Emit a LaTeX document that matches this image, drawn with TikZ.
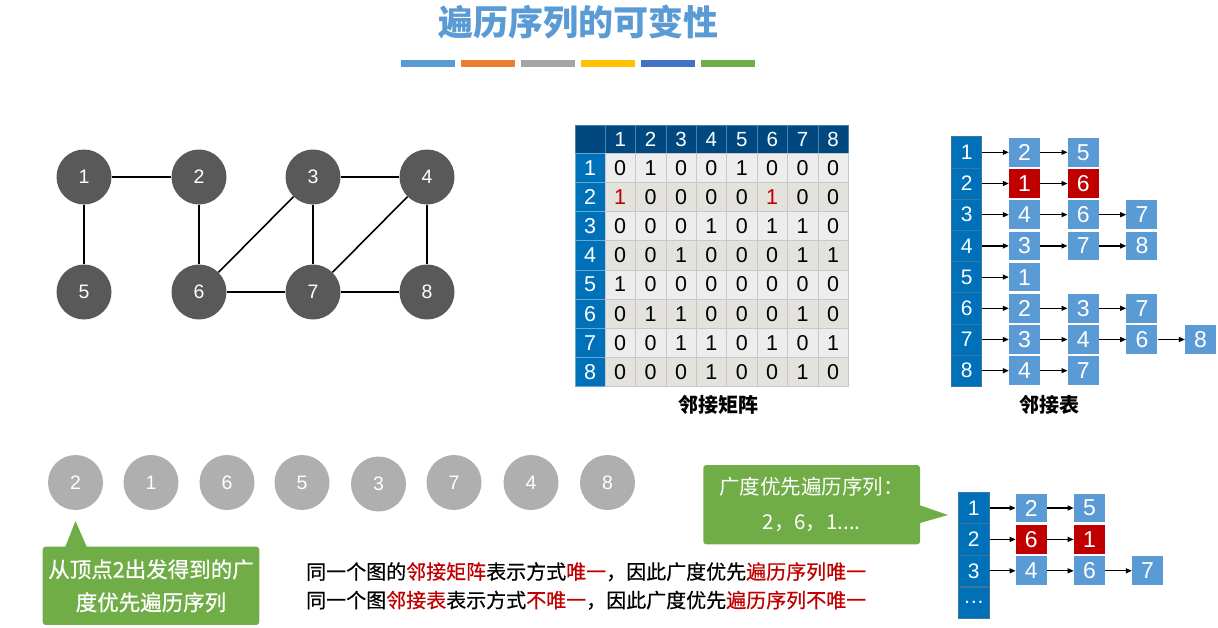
\documentclass[tikz,border=0pt]{standalone}
\usepackage{fontspec}
\setmainfont{Liberation Sans}
\newfontfamily\cjk{Noto Sans CJK SC}
\newfontfamily\cjkm{Noto Sans CJK SC}[FakeBold=0.6]
\usetikzlibrary{arrows.meta}
\definecolor{titleblue}{RGB}{91,155,213}
\definecolor{barorange}{RGB}{237,125,49}
\definecolor{bargray}{RGB}{165,165,165}
\definecolor{bargold}{RGB}{255,192,0}
\definecolor{barblue}{RGB}{68,114,196}
\definecolor{leafgreen}{RGB}{112,173,71}
\definecolor{vertexgray}{RGB}{89,89,89}
\definecolor{seqgray}{RGB}{175,175,175}
\definecolor{navyhead}{RGB}{0,73,128}
\definecolor{headblue}{RGB}{0,112,185}
\definecolor{rowlight}{RGB}{237,237,237}
\definecolor{rowdark}{RGB}{227,226,221}
\definecolor{hotred}{RGB}{192,0,0}
\definecolor{cellline}{RGB}{200,200,200}
\newcommand\redv[1]{\textcolor{hotred}{#1}}
\tikzset{
  vertex/.style={circle,fill=vertexgray,minimum size=55pt,inner sep=0pt,text=white,font=\fontsize{19.5}{19.5}\selectfont},
  seq/.style={vertex,fill=seqgray},
  edge/.style={draw=black,line width=1.6pt},
  cell/.style={rectangle,minimum width=30.4pt,minimum height=29.2pt,inner sep=0pt,draw=cellline,line width=0.6pt,font=\fontsize{21.5}{21.5}\selectfont},
  colhead/.style={cell,fill=navyhead,draw=navyhead!70!white,text=white,minimum height=28.3pt,font=\fontsize{20.5}{20.5}\selectfont},
  rowhead/.style={cell,fill=headblue,draw=headblue!60!white,text=white,minimum width=30pt},
  headcell/.style={rectangle,fill=headblue,draw=headblue!55!gray,line width=0.6pt,minimum width=30pt,minimum height=31.2pt,inner sep=0pt,text=white,font=\fontsize{21}{21}\selectfont},
  lnode/.style={rectangle,fill=titleblue,minimum width=31pt,minimum height=28.7pt,inner sep=0pt,text=white,font=\fontsize{23}{23}\selectfont},
  lred/.style={lnode,fill=hotred},
  arr/.style={-{Triangle[length=6pt,width=5pt]},draw=black,line width=1.2pt},
  note/.style={rectangle,rounded corners=3pt,fill=leafgreen,text=white,align=center,inner sep=0pt},
  caption/.style={font=\cjk\bfseries\fontsize{20}{24}\selectfont},
}
\begin{document}
\begin{tikzpicture}[x=1pt,y=-1pt]
  \useasboundingbox (0,0) rectangle (1218,627);
  % title and colour bars
  \node[text=titleblue,font=\cjk\bfseries\fontsize{35}{35}\selectfont] (title) at (578,22) {遍历序列的可变性};
  \foreach \c [count=\i from 0] in {titleblue,barorange,bargray,bargold,barblue,leafgreen}
    \fill[\c] (400.7+60*\i,60) rectangle ++(54.5,6.5);
  % graph
  \foreach \n/\x/\y in {1/84/177,2/199/177,3/313/177,4/427/177,5/84/292,6/199/292,7/313/292,8/427/292}
    \node[vertex] (v\n) at (\x,\y) {\n};
  \foreach \p/\q in {1/2,1/5,2/6,3/4,3/6,3/7,4/7,4/8,6/7,7/8}{\draw[edge] (v\p) -- (v\q);}
  % adjacency matrix
  \node[colhead,minimum width=30pt] (m-0-0) at (590,139.2) {};
  \foreach \c in {1,...,8}
    \node[colhead] (m-0-\c) at (605+30.4*\c-15.2,139.2) {\c};
  \foreach \r/\f/\row in {1/rowlight/{0,1,0,0,1,0,0,0},2/rowdark/{\redv1,0,0,0,0,\redv1,0,0},
      3/rowlight/{0,0,0,1,0,1,1,0},4/rowdark/{0,0,1,0,0,0,1,1},5/rowlight/{1,0,0,0,0,0,0,0},
      6/rowdark/{0,1,1,0,0,0,1,0},7/rowlight/{0,0,1,1,0,1,0,1},8/rowdark/{0,0,0,1,0,0,1,0}}{
    \node[rowhead] (m-\r-0) at (590,153.3+29.17*\r-14.6) {\r};
    \foreach \v [count=\c] in \row
      \node[cell,fill=\f] (m-\r-\c) at (605+30.4*\c-15.2,153.3+29.17*\r-14.6) {\v};
  }
  \node[caption] (mcap) at (718,405) {邻接矩阵};
  % adjacency list
  \foreach \i/\lst in {1/{2/lnode,5/lnode},2/{1/lred,6/lred},3/{4/lnode,6/lnode,7/lnode},
      4/{3/lnode,7/lnode,8/lnode},5/{1/lnode},6/{2/lnode,3/lnode,7/lnode},
      7/{3/lnode,4/lnode,6/lnode,8/lnode},8/{4/lnode,7/lnode}}{
    \node[headcell] (L\i-0) at (966.7,152.3+31.2*\i-31.2) {\i};
    \foreach \v/\s [count=\k] in \lst {
      \pgfmathtruncatemacro\p{\k-1}
      \node[\s] (L\i-\k) at (1024.5+58.7*\k-58.7,152.3+31.2*\i-31.2) {\v};
      \draw[arr] (L\i-\p) -- (L\i-\k);
    }
  }
  \node[caption] (lcap) at (1049,405) {邻接表};
  % traversal order
  \foreach \v/\x/\y [count=\i] in {2/75.5/482.5,1/151/482.5,6/227/482.5,5/302/482.5,3/378.5/484,7/454/482.5,4/531/482.5,8/607.5/482.5}
    \node[seq] (s\i) at (\x,\y) {\v};
  % callouts
  \node[note,minimum width=216.6pt,minimum height=78.3pt,font=\cjkm\fontsize{21.5}{33}\selectfont] (note1) at (151,585.8) {从顶点2出发得到的广\\度优先遍历序列};
  \coordinate (tip1) at (75.5,521);
  \fill[leafgreen] (65,547.5) -- (tip1) -- (87,547.5) -- cycle;
  \node[note,minimum width=216.7pt,minimum height=79.3pt,font=\cjk\fontsize{20.5}{35}\selectfont] (note2) at (811.7,504.7) {广度优先遍历序列：\\2，6，1....};
  \coordinate (tip2) at (948,515);
  \fill[leafgreen] (919,505) -- (tip2) -- (919,523.3) -- cycle;
  \node[anchor=west,align=left,inner sep=0pt,font=\cjkm\fontsize{20}{28.5}\selectfont] (remark) at (306,586)
    {同一个图的\redv{邻接矩阵}表示方式\redv{唯一}，因此广度优先\redv{遍历序列唯一}\\同一个图\redv{邻接表}表示方式\redv{不唯一}，因此广度优先\redv{遍历序列不唯一}};
  % second adjacency list
  \foreach \i/\lst in {1/{2/lnode,5/lnode},2/{6/lred,1/lred},3/{4/lnode,6/lnode,7/lnode}}{
    \node[headcell,minimum width=31pt,minimum height=31.4pt] (B\i-0) at (973.8,508+31.4*\i-31.4) {\i};
    \foreach \v/\s [count=\k] in \lst {
      \pgfmathtruncatemacro\p{\k-1}
      \node[\s] (B\i-\k) at (1031.3+58.1*\k-58.1,508+31.4*\i-31.4) {\v};
      \draw[arr] (B\i-\p) -- (B\i-\k);
    }
  }
  \node[headcell,minimum width=31pt,minimum height=31.4pt] (B4-0) at (973.8,602.5) {…};
\end{tikzpicture}
\end{document}
